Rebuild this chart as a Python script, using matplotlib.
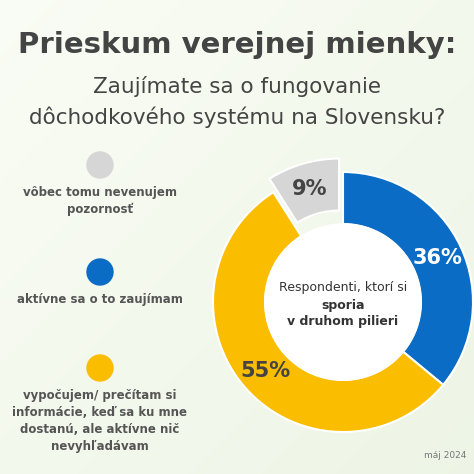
import matplotlib
matplotlib.use("Agg")
import matplotlib.pyplot as plt
import numpy as np
from matplotlib.patches import Wedge, Circle

labels = ["aktívne sa o to zaujímam", "vypočujem/ prečítam si\ninformácie, keď sa ku mne\ndostanú, ale aktívne nič\nnevyhľadávam", "vôbec tomu nevenujem\npozornosť"]
values = [36, 55, 9]
colors = ["#0a6cc4", "#fbbd00", "#d6d6d6"]

fig = plt.figure(figsize=(4.74, 4.74), dpi=100)
bg = fig.add_axes([0, 0, 1, 1])
grad = np.linspace(0, 1, 256)
X, Y = np.meshgrid(grad, grad)
img = np.zeros((256, 256, 3))
c1 = np.array([0.93, 0.96, 0.90]); c2 = np.array([0.98, 0.99, 0.96])
t = (X * 0.5 + (1 - Y) * 0.5)[..., None]
img[:] = c2 * (1 - t) + c1 * t
bg.imshow(img, extent=[0, 474, 0, 474], aspect='auto')
bg.set_xlim(0, 474); bg.set_ylim(474, 0); bg.axis('off')

dark = "#444444"
bg.text(237, 45, "Prieskum verejnej mienky:", ha='center', va='center', fontsize=21, fontweight='bold', color=dark)
bg.text(237, 86, "Zaujímate sa o fungovanie", ha='center', va='center', fontsize=15.5, color=dark)
bg.text(237, 117, "dôchodkového systému na Slovensku?", ha='center', va='center', fontsize=15.5, color=dark)

leg_pos = [(100, 272, 0), (100, 368, 1), (100, 165, 2)]
for x, y, i in leg_pos:
    bg.add_patch(Circle((x, y), 13, color=colors[i]))
    bg.text(x, y + 21, labels[i], ha='center', va='top', fontsize=8.5, fontweight='bold', color="#555555", linespacing=1.4)

ax = fig.add_axes([0, 0, 1, 1]); ax.set_xlim(0, 474); ax.set_ylim(0, 474); ax.axis('off')
cx, cy, R, r = 343, 474 - 302, 130, 78
start = 90
for v, col, i in zip(values, colors, range(3)):
    theta2 = start; theta1 = start - v * 3.6
    mid = np.deg2rad((theta1 + theta2) / 2)
    off = 14 if i == 2 else 0
    ox, oy = cx + off * np.cos(mid), cy + off * np.sin(mid)
    ax.add_patch(Wedge((ox, oy), R, theta1, theta2, width=R - r, facecolor=col, edgecolor='white', linewidth=1.5))
    lr = (R + r) / 2
    tc = "white" if i == 0 else dark
    ax.text(ox + lr * np.cos(mid), oy + lr * np.sin(mid), f"{v}%", ha='center', va='center', fontsize=15, fontweight='bold', color=tc)
    start = theta1
ax.add_patch(Circle((cx, cy), r, color='white'))
ax.text(cx, cy + 14, "Respondenti, ktorí si", ha='center', va='center', fontsize=9, color="#333333")
ax.text(cx, cy - 3, "sporia", ha='center', va='center', fontsize=9, fontweight='bold', color="#333333")
ax.text(cx, cy - 20, "v druhom pilieri", ha='center', va='center', fontsize=9, fontweight='bold', color="#333333")
ax.text(445, 474 - 455, "máj 2024", ha='center', va='center', fontsize=6.5, color="#777777")

fig.savefig("out.png", dpi=100)
